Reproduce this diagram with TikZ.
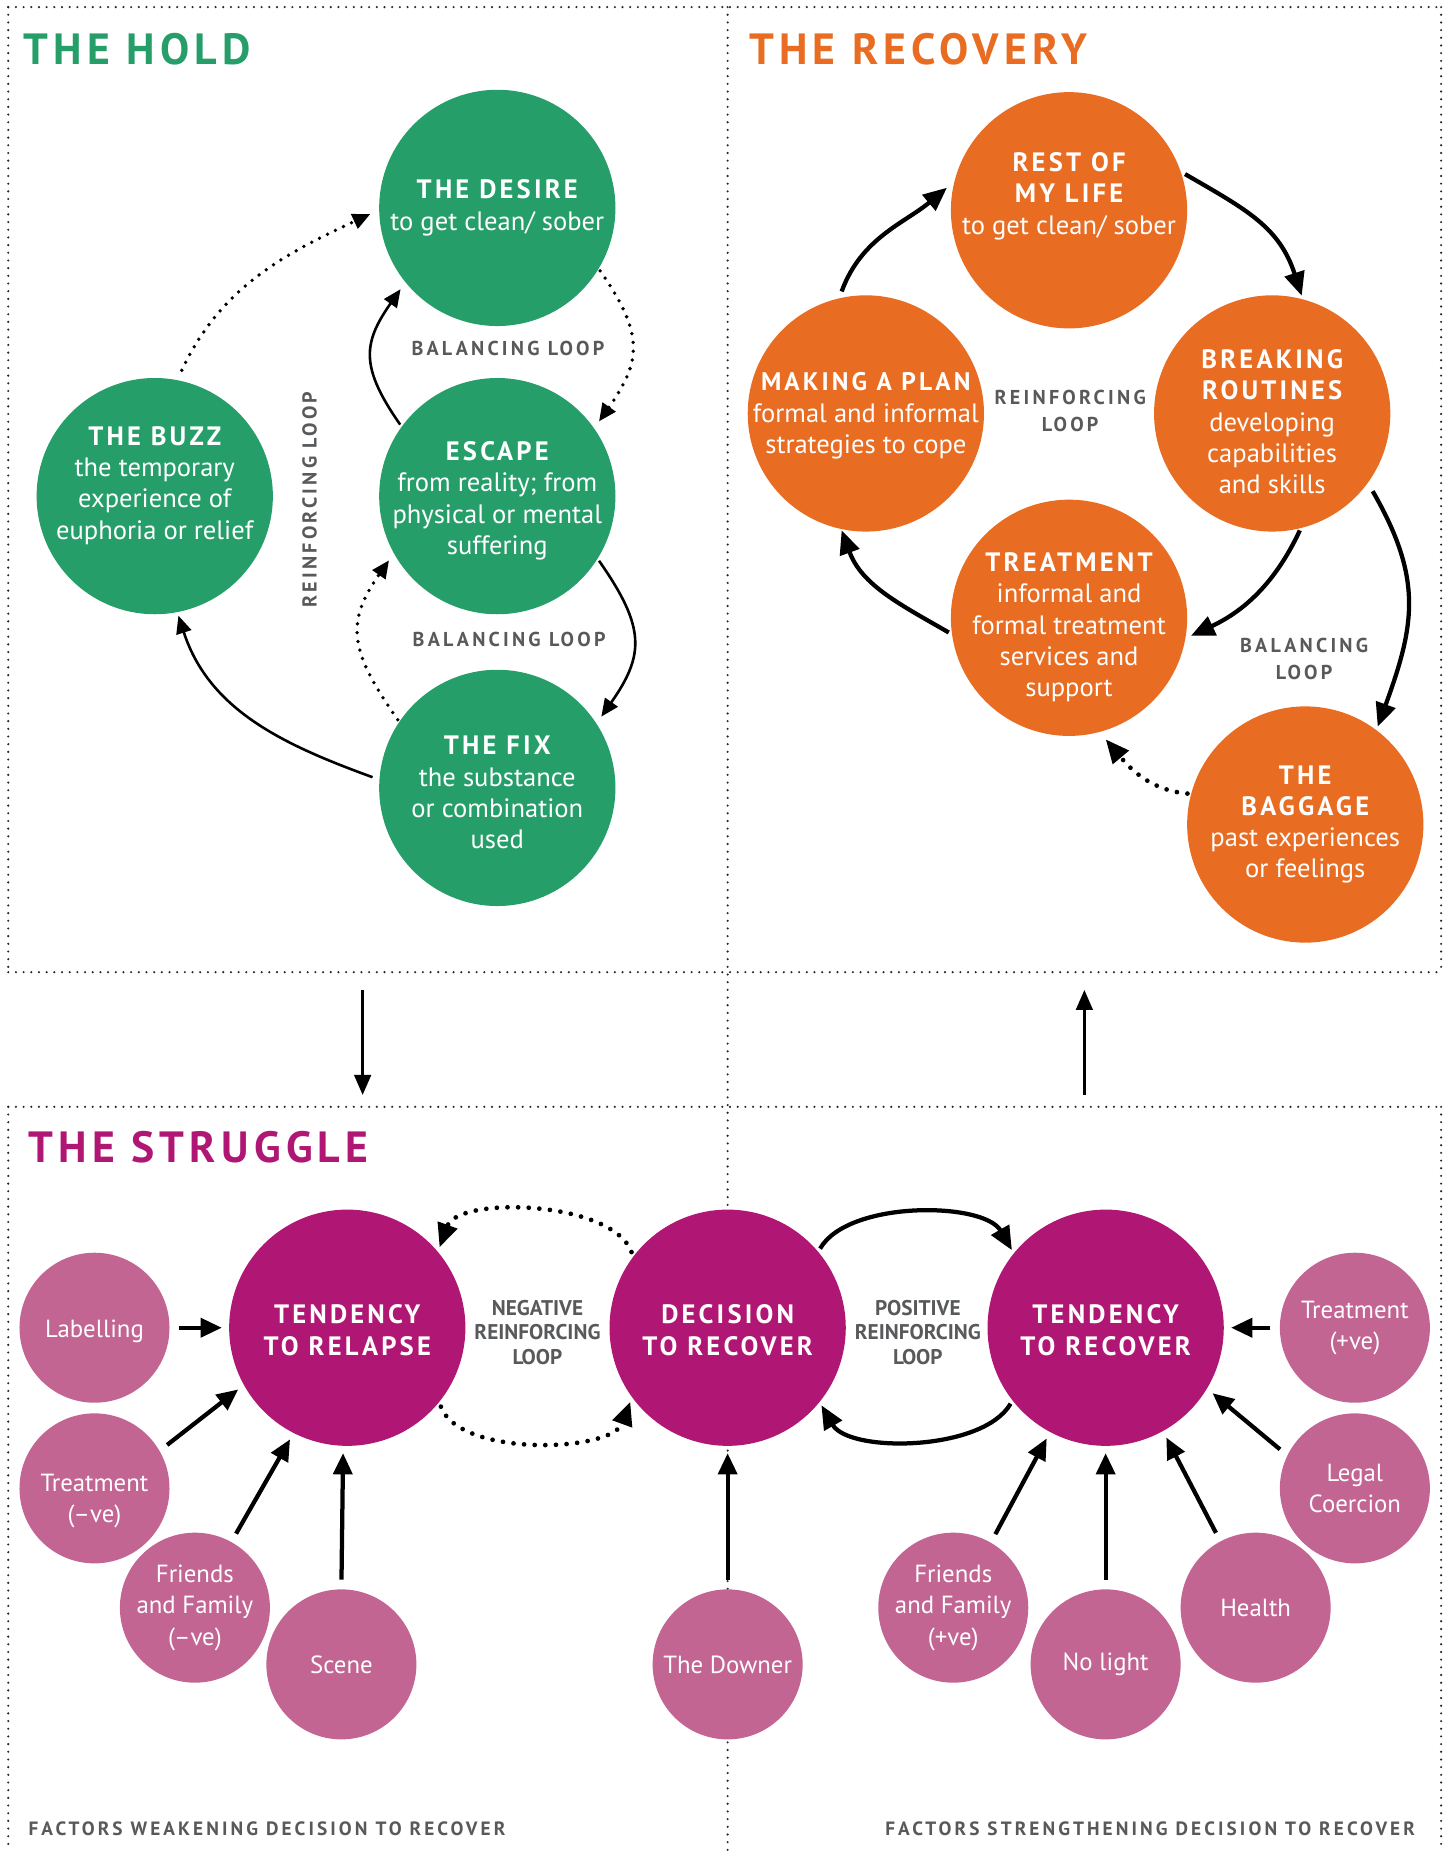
\documentclass[tikz,border=0pt]{standalone}
\usepackage{fontspec}
\setmainfont{PT Sans}
\newfontfamily\trk{PT Sans}[LetterSpace=12]
\newfontfamily\trkw{PT Sans}[LetterSpace=16]
\usetikzlibrary{arrows.meta}
\definecolor{hold}{HTML}{259E69}
\definecolor{recov}{HTML}{E86C22}
\definecolor{strug}{HTML}{B01673}
\definecolor{fact}{HTML}{C26593}
\definecolor{lblc}{HTML}{58595B}
\newcommand{\hd}[1]{{\trk\bfseries #1}}
\begin{document}
\begin{tikzpicture}[x=1pt,y=1pt,
  brd/.style={line width=2pt,dash pattern=on 0pt off 6.5pt,line cap=round,black!85},
  big/.style={circle,minimum size=200pt,inner sep=0pt},
  small/.style={circle,minimum size=127pt,inner sep=0pt,fill=fact},
  gc/.style={big,fill=hold},
  oc/.style={big,fill=recov},
  mc/.style={big,fill=strug},
  ctx/.style={text=white,align=center,inner sep=0pt,font=\fontsize{22.5}{26.5}\selectfont},
  stx/.style={text=white,align=center,inner sep=0pt,font=\fontsize{21}{26.5}\selectfont},
  title/.style={font=\trk\bfseries\fontsize{37}{40}\selectfont,inner sep=0pt},
  lbl/.style={text=lblc,font=\trkw\bfseries\fontsize{17}{23}\selectfont,align=center,inner sep=0pt},
  nlbl/.style={text=lblc,font=\bfseries\fontsize{18}{21}\selectfont,align=center,inner sep=0pt},
  foot/.style={text=lblc,font=\trkw\bfseries\fontsize{16.3}{18}\selectfont,inner sep=0pt},
  garr/.style={line width=2.2pt,-{Triangle[length=15pt,width=13pt]}},
  gdot/.style={garr,line width=3.2pt,dash pattern=on 0pt off 7.5pt,line cap=round},
  oarr/.style={line width=3.6pt,-{Triangle[length=20pt,width=17pt]}},
  odot/.style={oarr,line width=4pt,dash pattern=on 0pt off 9pt,line cap=round},
  farr/.style={line width=3.6pt,-{Triangle[length=18pt,width=16pt]},shorten <=8pt,shorten >=6pt},
  parr/.style={line width=2.6pt,-{Triangle[length=17pt,width=14pt]}}
]
\useasboundingbox (0,0) rectangle (1228,-1567);

% ---------- frames ----------
\draw[brd] (7,-6) -- (1220,-6);
\draw[brd] (7,-6) -- (7,-823);
\draw[brd] (1220,-6) -- (1220,-823);
\draw[brd] (7,-823) -- (1220,-823);
\draw[brd] (616,-6) -- (616,-1567);
\draw[brd] (7,-937) -- (1220,-937);
\draw[brd] (7,-937) -- (7,-1567);
\draw[brd] (1220,-937) -- (1220,-1567);

% ---------- titles ----------
\node[title,text=hold,anchor=base west] (t1) at (20,-55) {THE HOLD};
\node[title,text=recov,anchor=base west] (t2) at (634,-55) {THE RECOVERY};
\node[title,text=strug,anchor=base west] (t3) at (24,-984) {THE STRUGGLE};

% ---------- THE HOLD ----------
\node[gc,label={[ctx]center:{\hd{THE DESIRE}\\to get clean/ sober}}] (desire) at (421,-176) {};
\node[gc,label={[ctx,yshift=9]center:{\hd{THE BUZZ}\\the temporary\\experience of\\euphoria or relief}}] (buzz) at (131,-420) {};
\node[gc,label={[ctx,yshift=-4]center:{\hd{ESCAPE}\\from reality; from\\physical or mental\\suffering}}] (escape) at (421,-420) {};
\node[gc,label={[ctx,yshift=-4]center:{\hd{THE FIX}\\the substance\\or combination\\used}}] (fix) at (421,-667) {};

\node[lbl] (bl1) at (430,-295) {BALANCING LOOP};
\node[lbl] (bl2) at (431,-541) {BALANCING LOOP};
\node[lbl,rotate=90] (rl1) at (262,-423) {REINFORCING LOOP};

\draw[gdot,shorten <=9pt,shorten >=8pt] (buzz.79) to[out=65,in=205] (desire.181);
\draw[garr,shorten <=2pt,shorten >=7pt] (escape.144) to[out=125,in=235,looseness=1.3] (desire.219);
\draw[gdot,shorten <=2pt,shorten >=7pt] (desire.329) to[out=-55,in=55,looseness=1.3] (escape.35);
\draw[garr,shorten <=2pt,shorten >=7pt] (escape.-32) to[out=-55,in=55,looseness=1.3] (fix.33);
\draw[gdot,shorten <=2pt,shorten >=7pt] (fix.146) to[out=125,in=235,looseness=1.3] (escape.209);
\draw[garr,shorten <=6pt,shorten >=3pt] (fix.176) to[out=160,in=-72] (buzz.-79);

% ---------- THE RECOVERY ----------
\node[oc,label={[ctx,yshift=12]center:{\hd{REST OF}\\\hd{MY LIFE}\\to get clean/ sober}}] (rest) at (905,-178) {};
\node[oc,label={[ctx,yshift=-2]center:{{\trk\bfseries\fontsize{21.5}{26.5}\selectfont MAKING A PLAN}\\formal and informal\\strategies to cope}}] (plan) at (733,-350) {};
\node[oc,label={[ctx,yshift=-7]center:{\hd{BREAKING}\\\hd{ROUTINES}\\developing\\capabilities\\and skills}}] (routines) at (1077,-350) {};
\node[oc,label={[ctx,yshift=-8]center:{\hd{TREATMENT}\\informal and\\formal treatment\\services and\\support}}] (treat) at (905,-523) {};
\node[oc,label={[ctx]center:{\hd{THE}\\\hd{BAGGAGE}\\past experiences\\or feelings}}] (baggage) at (1105,-698) {};

\node[lbl] (rl2) at (906,-348) {REINFORCING\\LOOP};
\node[lbl] (bl3) at (1104,-558) {BALANCING\\LOOP};

\draw[oarr,shorten <=6pt,shorten >=8pt] (plan.103) to[out=70,in=220] (rest.166);
\draw[oarr,shorten <=4pt,shorten >=3pt] (rest.19) to[out=-30,in=108,looseness=1.1] (routines.75);
\draw[oarr,shorten <=2pt,shorten >=5pt] (routines.-76) to[out=-115,in=25] (treat.-10);
\draw[oarr,shorten <=3pt,shorten >=1pt] (treat.188) to[out=150,in=-70] (plan.258);
\draw[oarr,shorten <=8pt,shorten >=3pt] (routines.-36) to[out=-60,in=70,looseness=1.15] (baggage.53);
\draw[odot,shorten <=3pt,shorten >=8pt] (baggage.165) to[out=175,in=-50] (treat.-75);

% ---------- between panels ----------
\coordinate (a1) at (307,-838);
\coordinate (a2) at (307,-927);
\coordinate (b1) at (918,-927);
\coordinate (b2) at (918,-838);
\draw[parr] (a1) -- (a2);
\draw[parr] (b1) -- (b2);

% ---------- THE STRUGGLE ----------
\node[mc,label={[ctx,yshift=-2]center:{\hd{TENDENCY}\\\hd{TO RELAPSE}}}] (relapse) at (294,-1124) {};
\node[mc,label={[ctx,yshift=-2]center:{\hd{DECISION}\\\hd{TO RECOVER}}}] (decision) at (616,-1124) {};
\node[mc,label={[ctx,yshift=-2]center:{\hd{TENDENCY}\\\hd{TO RECOVER}}}] (recover) at (936,-1124) {};

\node[nlbl] (nl) at (455,-1128) {NEGATIVE\\REINFORCING\\LOOP};
\node[nlbl] (pl) at (777,-1128) {POSITIVE\\REINFORCING\\LOOP};

\node[small,label={[stx,yshift=-3]center:{Labelling}}] (labelling) at (80,-1124) {};
\node[small,label={[stx,yshift=-11]center:{Treatment\\(–ve)}}] (tneg) at (80,-1260) {};
\node[small,label={[stx]center:{Friends\\and Family\\(–ve)}}] (fneg) at (165,-1361) {};
\node[small,label={[stx]center:{Scene}}] (scene) at (289,-1409) {};
\node[small,label={[stx]center:{The Downer}}] (downer) at (616,-1409) {};
\node[small,label={[stx]center:{Friends\\and Family\\(+ve)}}] (fpos) at (807,-1361) {};
\node[small,label={[stx]center:{No light}}] (nolight) at (936,-1409) {};
\node[small,label={[stx]center:{Health}}] (health) at (1063,-1361) {};
\node[small,label={[stx]center:{Legal\\Coercion}}] (legal) at (1147,-1260) {};
\node[small,label={[stx]center:{Treatment\\(+ve)}}] (tpos) at (1147,-1124) {};

\draw[odot,shorten <=4pt,shorten >=4pt] (decision.143) to[out=110,in=70,looseness=0.78] (relapse.40);
\draw[odot,shorten <=4pt,shorten >=4pt] (relapse.-39) to[out=-70,in=-110,looseness=0.78] (decision.216);
\draw[oarr,shorten <=3pt,shorten >=3pt] (decision.40) to[out=60,in=120,looseness=0.78] (recover.141);
\draw[oarr,shorten <=3pt,shorten >=3pt] (recover.218) to[out=-120,in=-60,looseness=0.78] (decision.-39);

\draw[farr] (labelling.0) -- (relapse.180);
\draw[farr] (tneg.30) -- (relapse.209);
\draw[farr] (fneg.61) -- (relapse.243);
\draw[farr] (scene.90) -- (relapse.268);
\draw[farr] (downer.90) -- (decision.270);
\draw[farr] (fpos.60) -- (recover.242);
\draw[farr] (nolight.90) -- (recover.270);
\draw[farr] (health.118) -- (recover.299);
\draw[farr] (legal.154) -- (recover.329);
\draw[farr] (tpos.180) -- (recover.0);

\node[foot,anchor=base west] (f1) at (24,-1554) {FACTORS WEAKENING DECISION TO RECOVER};
\node[foot,anchor=base east] (f2) at (1198,-1554) {FACTORS STRENGTHENING DECISION TO RECOVER};
\end{tikzpicture}
\end{document}
